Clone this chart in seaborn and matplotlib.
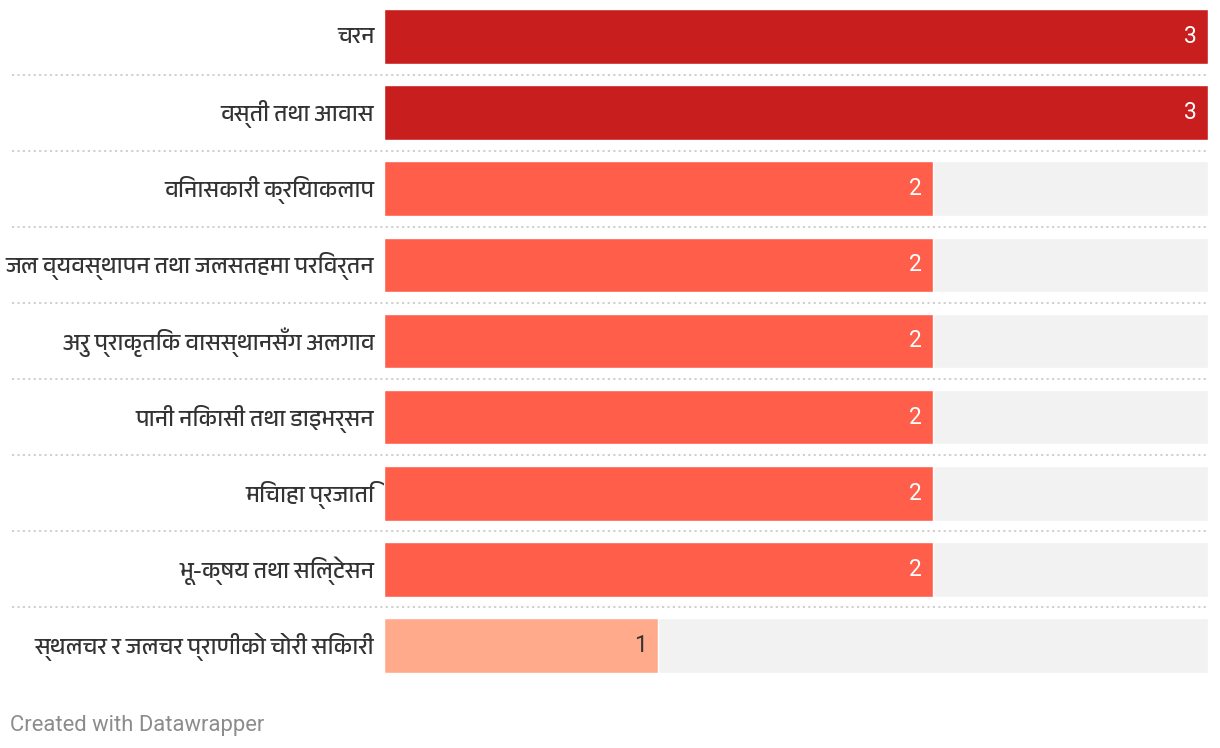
# threats_bar_chart.py

# ====== IMPORTS ======
import matplotlib
matplotlib.use("Agg")
import pandas as pd
import seaborn as sns
import matplotlib.pyplot as plt
from matplotlib import font_manager
from matplotlib.ft2font import FT2Font
from matplotlib.transforms import ScaledTranslation

# ====== DATA ======
threats = [
    "चरन",
    "वस्ती तथा आवास",
    "विनासकारी क्रियाकलाप",
    "जल व्यवस्थापन तथा जलसतहमा परिवर्तन",
    "अरु प्राकृतिक वासस्थानसँग अलगाव",
    "पानी निकासी तथा डाइभर्सन",
    "मिचाहा प्रजाति",
    "भू-क्षय तथा सिल्टेसन",
    "स्थलचर र जलचर प्राणीको चोरी सिकारी",
]
counts = [3, 3, 2, 2, 2, 2, 2, 2, 1]
max_count = 3

# colour per value
value_colors = {3: "#c91e1e", 2: "#ff5e4a", 1: "#ffaa8b"}
value_text = {3: "white", 2: "white", 1: "#333333"}

df = pd.DataFrame({"threat": threats, "count": counts})
df["full"] = max_count


# ====== FONT WITH DEVANAGARI ======
def find_devanagari_font():
    found = []
    for f in font_manager.fontManager.ttflist:
        try:
            if 0x0915 in FT2Font(f.fname).get_charmap():
                found.append(f.name)
        except Exception:
            pass
    pref = [n for n in found if "Devanagari" in n]
    if pref:
        return pref[0]
    if found:
        return found[0]
    return "DejaVu Sans"


deva_font = find_devanagari_font()
print("Devanagari font:", deva_font)

sns.set_theme(style="white")
plt.rcParams["font.family"] = ["Roboto", "DejaVu Sans"]

# ====== PLOT ======
W, H = 1220, 748
fig = plt.figure(figsize=(W / 100, H / 100), dpi=100)
ax_left, ax_right = 383.5, 1208
ax_top, ax_bottom = -1.5, 683.5
ax = fig.add_axes([ax_left / W, (H - ax_bottom) / H,
                   (ax_right - ax_left) / W, (ax_bottom - ax_top) / H])

# background track
sns.barplot(data=df, x="full", y="threat", color="#f2f2f2", width=54.5 / 76,
            ax=ax, saturation=1, orient="h")
# actual values
sns.barplot(data=df, x="count", y="threat", hue="threat",
            palette=[value_colors[c] for c in counts], width=54.5 / 76,
            ax=ax, saturation=1, legend=False, orient="h")

ax.set_xlim(0, max_count)
ax.set_ylim(len(threats) - 0.5, -0.5)
ax.set_xlabel("")
ax.set_ylabel("")
ax.set_xticks([])
for s in ax.spines.values():
    s.set_visible(False)

ax.tick_params(axis="y", length=0, pad=6.5)
shift_up = ScaledTranslation(0, 2 / 100, fig.dpi_scale_trans)
for lab in ax.get_yticklabels():
    lab.set_family([deva_font, "DejaVu Sans"])
    lab.set_fontsize(16.5)
    lab.set_color("#333333")
    lab.set_transform(lab.get_transform() + shift_up)

# dotted separators
sep_x0 = (12 - ax_left) / (ax_right - ax_left)
for i in range(len(threats) - 1):
    ax.axhline(i + 0.5, xmin=sep_x0, xmax=1, color="#cccccc", lw=1.3,
               ls=(0, (1.2, 1.8)), clip_on=False)

# value labels
px = max_count / (ax_right - ax_left)
for i, c in enumerate(counts):
    ax.text(c - 11 * px, i, str(c), ha="right", va="center",
            fontsize=16.5, color=value_text[c])

# footer
fig.text(10 / W, 1 - 725 / H, "Created with Datawrapper", ha="left",
         va="center", fontsize=15.8, color="#8c8c8c")

plt.savefig("out.png", dpi=100)
plt.close()
